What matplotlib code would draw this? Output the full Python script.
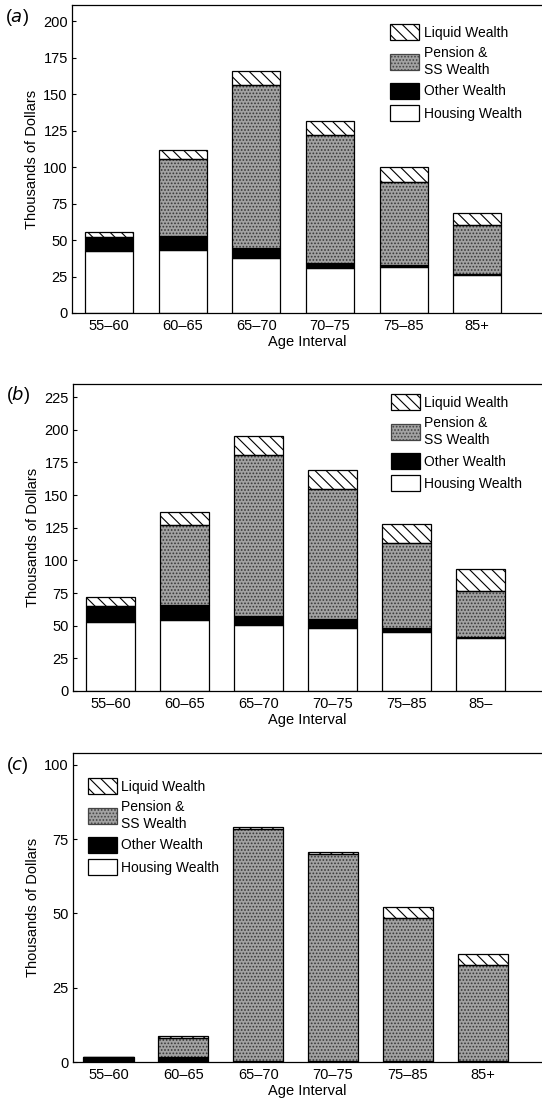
import matplotlib
matplotlib.use("Agg")
import matplotlib.pyplot as plt
from matplotlib.patches import Patch
import numpy as np

plt.rcParams['font.family'] = ['Liberation Sans', 'DejaVu Sans']
plt.rcParams['hatch.linewidth'] = 0.8

ages = ["55–60", "60–65", "65–70", "70–75", "75–85", "85+"]
ages_b = ["55–60", "60–65", "65–70", "70–75", "75–85", "85–"]

# Panel (a): component values (thousands of dollars)
a_housing = [42.2, 43.4, 38.0, 30.6, 31.3, 26.0]
a_other   = [9.8, 9.1, 6.5, 3.4, 1.3, 0.5]
a_pension = [0.0, 53.2, 111.9, 87.7, 57.4, 33.5]
a_liquid  = [3.3, 6.3, 9.6, 10.0, 9.8, 8.5]

# Panel (b)
b_housing = [52.6, 54.0, 50.3, 48.5, 45.0, 40.4]
b_other   = [12.4, 12.0, 7.4, 6.7, 3.5, 1.2]
b_pension = [0.0, 60.7, 122.7, 99.4, 64.7, 34.8]
b_liquid  = [7.0, 10.0, 15.1, 14.8, 14.5, 17.1]

# Panel (c)
c_housing = [0.0, 0.0, 0.0, 0.0, 0.0, 0.0]
c_other   = [1.7, 1.7, 0.5, 0.5, 0.3, 0.3]
c_pension = [0.0, 6.5, 78.0, 69.5, 48.2, 32.5]
c_liquid  = [0.0, 0.5, 0.5, 0.6, 3.7, 3.4]

legend_labels = ["Liquid Wealth", "Pension &\nSS Wealth", "Other Wealth", "Housing Wealth"]
yticks_a = [0, 25, 50, 75, 100, 125, 150, 175, 200]
yticks_b = [0, 25, 50, 75, 100, 125, 150, 175, 200, 225]
yticks_c = [0, 25, 50, 75, 100]

PEN_FACE = '#a2a2a2'
PEN_DOT = '#383838'
HATCH_L = '\\\\\\'
HATCH_P = '.....'

fig = plt.figure(figsize=(5.42, 11.0), dpi=100)
W, H = 542.0, 1100.0

def add_axes(left_px, top_px, bottom_px):
    return fig.add_axes([left_px / W, 1 - bottom_px / H, 1 - left_px / W, (bottom_px - top_px) / H])

def draw_panel(ax, housing, other, pension, liquid, labels, yticks, ylim, xlim, width, tag,
               leg_anchor, tag_y):
    x = np.arange(len(labels))
    housing = np.array(housing); other = np.array(other)
    pension = np.array(pension); liquid = np.array(liquid)
    b1 = housing
    b2 = b1 + other
    b3 = b2 + pension
    ax.bar(x, housing, width, color='white', edgecolor='black', linewidth=0.9, zorder=2)
    ax.bar(x, other, width, bottom=b1, color='black', edgecolor='black', linewidth=0.9, zorder=2)
    ax.bar(x, pension, width, bottom=b2, color=PEN_FACE, edgecolor=PEN_DOT, linewidth=0,
           hatch=HATCH_P, zorder=2)
    ax.bar(x, pension, width, bottom=b2, color='none', edgecolor='black', linewidth=0.9, zorder=3)
    ax.bar(x, liquid, width, bottom=b3, color='white', edgecolor='black', linewidth=0.9,
           hatch=HATCH_L, zorder=2)
    ax.set_xlim(*xlim)
    ax.set_ylim(*ylim)
    ax.set_xticks(x)
    ax.set_xticklabels(labels, fontsize=10.5)
    ax.set_yticks(yticks)
    ax.tick_params(axis='x', length=0, pad=4)
    ax.tick_params(axis='y', length=3, width=0.8, direction='in', labelsize=10.5, pad=3)
    ax.spines['right'].set_visible(False)
    for s in ['left', 'bottom', 'top']:
        ax.spines[s].set_linewidth(0.9)
    ax.set_xlabel("Age Interval", fontsize=10.5, labelpad=2)
    ax.set_ylabel("Thousands of Dollars", fontsize=10.5, labelpad=3)
    ax.text(-0.142, tag_y, "(" + r"$\it{" + tag + "}$" + ")", transform=ax.transAxes,
            fontsize=13, va='center', ha='left', color='black')
    handles = [
        Patch(facecolor='white', edgecolor='black', hatch=HATCH_L, linewidth=0.9),
        Patch(facecolor=PEN_FACE, edgecolor='#444444', hatch=HATCH_P, linewidth=0.9),
        Patch(facecolor='black', edgecolor='black', linewidth=0.9),
        Patch(facecolor='white', edgecolor='black', linewidth=0.9),
    ]
    ax.legend(handles, legend_labels, loc='upper left', bbox_to_anchor=leg_anchor,
              frameon=False, fontsize=10, handlelength=2.1, handleheight=1.4,
              handletextpad=0.3, labelspacing=0.45, borderpad=0, borderaxespad=0)

ax_a = add_axes(72, 5, 313)
draw_panel(ax_a, a_housing, a_other, a_pension, a_liquid, ages, yticks_a, (0, 211),
           (-0.503, 5.88), 0.65, 'a', (0.677, 0.938), 0.96)

ax_b = add_axes(73, 384, 691)
draw_panel(ax_b, b_housing, b_other, b_pension, b_liquid, ages_b, yticks_b, (0, 235),
           (-0.507, 5.83), 0.66, 'b', (0.678, 0.967), 0.964)

ax_c = add_axes(73, 753, 1062)
draw_panel(ax_c, c_housing, c_other, c_pension, c_liquid, ages, yticks_c, (0, 104),
           (-0.474, 5.79), 0.67, 'c', (0.032, 0.919), 0.958)

fig.savefig("out.png", dpi=100)
